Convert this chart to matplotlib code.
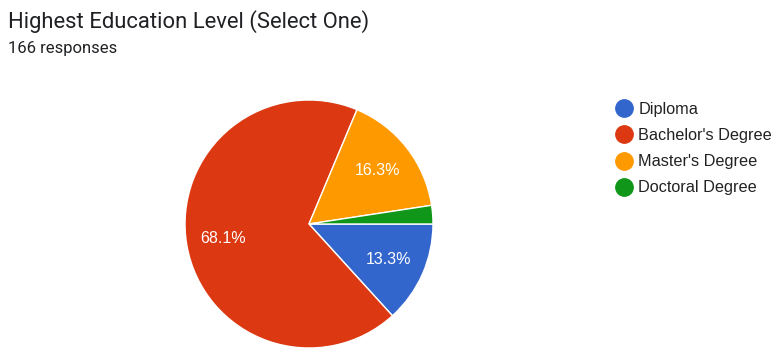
import matplotlib.pyplot as plt
from matplotlib.lines import Line2D

categories = ["Diploma", "Bachelor's Degree", "Master's Degree", "Doctoral Degree"]
counts = [22, 113, 27, 4]
colors = ["#3366cc", "#dc3912", "#ff9900", "#109618"]
title = "Highest Education Level (Select One)"
subtitle = "166 responses"

fig = plt.figure(figsize=(7.76, 3.48), dpi=100)
ax = fig.add_axes([0.2384, 0.0, 0.3196, 0.7126])


def pct_label(p):
    # google forms hides labels on tiny slices
    return f"{p:.1f}%" if p >= 5 else ""


wedges, _, autotexts = ax.pie(
    counts,
    colors=colors,
    startangle=0,
    counterclock=False,
    autopct=pct_label,
    pctdistance=0.7,
    wedgeprops=dict(edgecolor="white", linewidth=1),
    textprops=dict(color="white", fontsize=11.5, family="Liberation Sans"),
)
ax.set_aspect("equal")
ax.set_xlim(-1.0, 1.0)
ax.set_ylim(-1.0, 1.0)

fig.text(8 / 776, 1 - 28 / 348, title, fontsize=15.8, family="Roboto", color="#202124")
fig.text(8 / 776, 1 - 53 / 348, subtitle, fontsize=12, family="Roboto", color="#202124")

handles = [
    Line2D([], [], marker="o", linestyle="", markersize=12.5, markerfacecolor=c, markeredgecolor=c)
    for c in colors
]
fig.legend(
    handles,
    categories,
    loc="upper left",
    bbox_to_anchor=(609 / 776, 1 - 94 / 348),
    frameon=False,
    handlelength=0.8,
    handletextpad=0.5,
    labelspacing=0.68,
    prop=dict(family="Liberation Sans", size=11.7),
    labelcolor="#222222",
    borderpad=0,
)

fig.savefig("out.png", dpi=100)
